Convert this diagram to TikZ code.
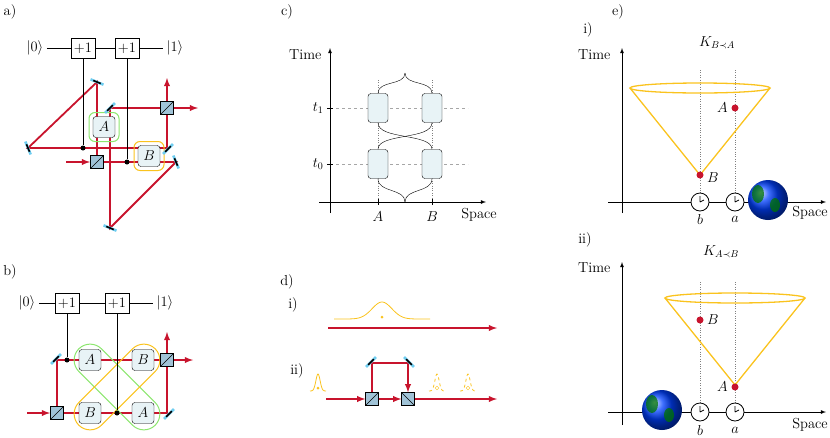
\documentclass[tikz,border=0pt]{standalone}
\usepackage{amsmath,amssymb}
\usepackage{fontspec}
\usepackage{xcolor}
\usepackage{tikz}
\usetikzlibrary{arrows,positioning,shapes}

\definecolor{beamred}{RGB}{200,20,45}
\definecolor{gold}{RGB}{250,195,30}
\definecolor{lgreen}{RGB}{140,230,110}
\definecolor{boxfill}{RGB}{232,243,246}
\definecolor{bsfill}{RGB}{160,195,215}
\definecolor{mirblue}{RGB}{110,205,240}

\newcommand{\mirr}[3]{%
  \begin{scope}[shift={(#1,#2)},rotate=#3]
    \draw[mirblue,line width=2.6pt] (-7,0) -- (7,0);
    \draw[black,line width=1.6pt] (-4,0) -- (4,0);
  \end{scope}}
\newcommand{\clockat}[3]{%
  \node[clock] (#1) at (#2,#3) {};
  \draw[thick] (#1.center) -- ++(0,-6) (#1.center) -- ++(4,-2);}
\newcommand{\earthat}[3]{%
  \shade[ball color=blue!75!cyan] (#1,#2) circle (#3);
  \fill[green!45!black,opacity=.75] (#1-#3*.5,#2-#3*.3) ellipse ({#3*.3} and {#3*.45});
  \fill[green!45!black,opacity=.75] (#1+#3*.35,#2+#3*.25) ellipse ({#3*.25} and {#3*.35});}

\begin{document}
\begin{tikzpicture}[x=1pt,y=-1pt,>=latex,
  every node/.style={font=\fontsize{14.5}{17}\selectfont},
  gate/.style={draw,minimum width=24pt,minimum height=20pt,inner sep=0pt},
  op/.style={draw,rounded corners=3pt,fill=boxfill,minimum width=22pt,minimum height=21pt,inner sep=0pt},
  ring/.style={draw,rounded corners=6pt,line width=1pt,minimum width=30pt,minimum height=29pt},
  bs/.style={draw,fill=bsfill,minimum size=13pt,inner sep=0pt},
  beam/.style={beamred,line width=1.8pt},
  dot/.style={circle,fill,inner sep=0pt,minimum size=5pt},
  rdot/.style={circle,fill=beamred,inner sep=0pt,minimum size=7pt},
  clock/.style={circle,draw,thick,fill=white,minimum size=18pt,inner sep=0pt},
  ebox/.style={draw,rounded corners=3pt,fill=boxfill,minimum width=20pt,minimum height=29pt,inner sep=0pt},
  axis/.style={thick,->},
  guide/.style={gray,dotted,thin}
]
\useasboundingbox (0,0) rectangle (830,437);

% ---------------- a)
\node (la) at (10,12) {a)};
\node (k0a) at (35,48) {$|0\rangle$};
\node[gate] (g1a) at (83,48) {$+1$};
\node[gate] (g2a) at (127,48) {$+1$};
\node (k1a) at (175,48) {$|1\rangle$};
\draw (k0a) -- (g1a) -- (g2a) -- (k1a);

\coordinate (ina) at (66,162);
\coordinate (m1a) at (176,162);
\coordinate (m2a) at (110,228);
\coordinate (m3a) at (110,108);
\coordinate (m4a) at (97,82);
\coordinate (m5a) at (28,148);
\coordinate (m6a) at (167,148);
\coordinate (outra) at (198,108);
\coordinate (outua) at (167,78);
\draw[beam] (97,162) -- (m1a) -- (m2a) -- (m3a) -- (167,108);
\draw[beam] (97,162) -- (m4a) -- (m5a) -- (m6a) -- (167,108);
\draw[beam,->] (ina) -- (90,162);
\draw[beam,->] (167,108) -- (outra);
\draw[beam,->] (167,108) -- (outua);

\node[op] (Aa) at (104,127) {$A$};
\node[ring,draw=lgreen] (rAa) at (Aa) {};
\node[op] (Ba) at (149,156) {$B$};
\node[ring,draw=gold] (rBa) at (Ba) {};
\node[bs] (bs1a) at (97,162) {};
\draw (bs1a.south west) -- (bs1a.north east);
\node[bs] (bs2a) at (167,108) {};
\draw (bs2a.south west) -- (bs2a.north east);
\node[dot] (d1a) at (83,148) {};
\node[dot] (d2a) at (127,162) {};
\draw (g1a) -- (d1a);
\draw (g2a) -- (d2a);
\mirr{176}{162}{-67.5}
\mirr{110}{228}{-22.5}
\mirr{110}{108}{45}
\mirr{97}{82}{-22.5}
\mirr{28}{148}{-67.5}
\mirr{168}{149}{45}

% ---------------- b)
\node (lb) at (10,272) {b)};
\node (k0b) at (27,303) {$|0\rangle$};
\node[gate] (g1b) at (67,303) {$+1$};
\node[gate] (g2b) at (117,303) {$+1$};
\node (k1b) at (165,303) {$|1\rangle$};
\draw (k0b) -- (g1b) -- (g2b) -- (k1b);

\coordinate (inb) at (27,413);
\coordinate (m1b) at (57,360);
\coordinate (m2b) at (167,413);
\draw[beam] (57,413) -- (m2b) -- (167,360);
\draw[beam] (57,413) -- (m1b) -- (167,360);
\draw[beam,->] (inb) -- (50,413);
\draw[beam,->] (167,360) -- (193,360);
\draw[beam,->] (167,360) -- (167,332);

\node[ring,draw=lgreen,rotate=-45,minimum width=108pt,minimum height=32pt,rounded corners=16pt] (lpg) at (117,387) {};
\node[ring,draw=gold,rotate=45,minimum width=108pt,minimum height=32pt,rounded corners=16pt] (lpy) at (117,387) {};
\node[op] (A1b) at (90,360) {$A$};
\node[op] (B1b) at (143,360) {$B$};
\node[op] (B2b) at (90,413) {$B$};
\node[op] (A2b) at (143,413) {$A$};
\node[bs] (bs1b) at (57,413) {};
\draw (bs1b.south west) -- (bs1b.north east);
\node[bs] (bs2b) at (167,360) {};
\draw (bs2b.south west) -- (bs2b.north east);
\node[dot] (d1b) at (67,360) {};
\node[dot] (d2b) at (117,413) {};
\draw (g1b) -- (d1b);
\draw (g2b) -- (d2b);
\mirr{56}{359}{45}
\mirr{169}{414}{45}

% ---------------- c)
\node (lc) at (287,12) {c)};
\draw[axis] (330,213) -- (330,48);
\draw[axis] (319,202) -- (486,202);
\node[left] (timec) at (325,55) {Time};
\node (spacec) at (479,215) {Space};
\draw[gray!70,dashed,thin] (330,108) -- (468,108) (330,164) -- (468,164);
\draw[guide] (378,80) -- (378,202) (432,80) -- (432,202);
\draw (327,108) -- (333,108) (327,164) -- (333,164) (378,199) -- (378,205) (432,199) -- (432,205);
\node[left] (t1) at (327,108) {$t_1$};
\node[left] (t0) at (327,164) {$t_0$};
\node (xA) at (378,217) {$A$};
\node (xB) at (432,217) {$B$};
\node[ebox] (A1c) at (378,108) {};
\node[ebox] (B1c) at (432,108) {};
\node[ebox] (A0c) at (378,164) {};
\node[ebox] (B0c) at (432,164) {};
\draw (A1c.north) .. controls (378,80) and (405,86) .. (405,73);
\draw (B1c.north) .. controls (432,80) and (405,86) .. (405,73);
\draw (A0c.south) .. controls (378,193) and (405,188) .. (405,202);
\draw (B0c.south) .. controls (432,193) and (405,188) .. (405,202);
\draw (A1c.south) .. controls (378,140) and (432,133) .. (B0c.north);
\draw (B1c.south) .. controls (432,140) and (378,133) .. (A0c.north);

% ---------------- d)
\node (ld) at (287,282) {d)};
\node (di) at (293,305) {i)};
\draw[gold,thick,domain=-48:48,samples=60] plot ({382+\x},{319-17*exp(-(\x/14)^2)});
\node[circle,fill=gold,inner sep=0pt,minimum size=3pt] (pd1) at (382,317) {};
\draw[beam,->] (328,328) -- (497,328);

\node (dii) at (297,371) {ii)};
\draw[gold,thick,domain=-8:8,samples=40] plot ({318+\x},{391-17*exp(-(\x/3)^2)});
\node[circle,fill=gold,inner sep=0pt,minimum size=3pt] (pd2) at (318,388) {};
\foreach \cx in {437,468}{
  \draw[gold,thick,dashed,domain=-8:8,samples=40] plot ({\cx+\x},{391-17*exp(-(\x/3)^2)});
  \draw[gold] (\cx,388) circle (1.8);
}
\node[bs] (bs1d) at (372,399) {};
\node[bs] (bs2d) at (408,399) {};
\coordinate (m1d) at (372,363);
\coordinate (m2d) at (408,363);
\draw[beam,->] (326,399) -- (bs1d.west);
\draw[beam,->] (bs1d.east) -- (bs2d.west);
\draw[beam,->] (bs2d.east) -- (497,399);
\draw[beam] (bs1d.north) -- (m1d) -- (m2d);
\draw[beam,->] (m2d) -- (bs2d.north);
\draw (bs1d.south west) -- (bs1d.north east);
\draw (bs2d.north west) -- (bs2d.south east);
\mirr{371}{362}{45}
\mirr{409}{362}{-45}

% ---------------- e) i
\node (le) at (618,12) {e)};
\node (ei) at (588,30) {i)};
\node (kba) at (717,43) {$K_{B\prec A}$};
\draw[axis] (622,213) -- (622,48);
\draw[axis] (608,202) -- (826,202);
\node[left] (timee1) at (614,55) {Time};
\node (spacee1) at (810,213) {Space};
\draw[guide] (700,70) -- (700,202) (735,70) -- (735,202);
\draw[gold,line width=1.3pt] (700,88) ellipse (70 and 5);
\draw[gold,line width=1.3pt] (630,88) -- (700,175) -- (770,88);
\node[rdot] (Ae1) at (735,108) {};
\node[left=0pt of Ae1] (Ae1l) {$A$};
\node[rdot] (Be1) at (700,175) {};
\node[right=0pt of Be1,yshift=-3pt] (Be1l) {$B$};
\clockat{cb1}{700}{202}
\clockat{ca1}{735}{202}
\earthat{768}{200}{20}
\node (xb1) at (700,219) {$b$};
\node (xa1) at (735,219) {$a$};

% ---------------- e) ii
\node (eii) at (585,240) {ii)};
\node (kab) at (721,252) {$K_{A\prec B}$};
\draw[axis] (622,425) -- (622,262);
\draw[axis] (608,412) -- (826,412);
\node[left] (timee2) at (614,268) {Time};
\node (spacee2) at (810,425) {Space};
\draw[guide] (700,282) -- (700,412) (735,282) -- (735,412);
\draw[gold,line width=1.3pt] (735,298) ellipse (70 and 5);
\draw[gold,line width=1.3pt] (665,298) -- (735,385) -- (805,298);
\node[rdot] (Be2) at (700,320) {};
\node[right=0pt of Be2] (Be2l) {$B$};
\node[rdot] (Ae2) at (735,387) {};
\node[left=0pt of Ae2] (Ae2l) {$A$};
\earthat{662}{410}{20}
\clockat{cb2}{700}{412}
\clockat{ca2}{735}{412}
\node (xb2) at (700,430) {$b$};
\node (xa2) at (735,430) {$a$};
\end{tikzpicture}
\end{document}
